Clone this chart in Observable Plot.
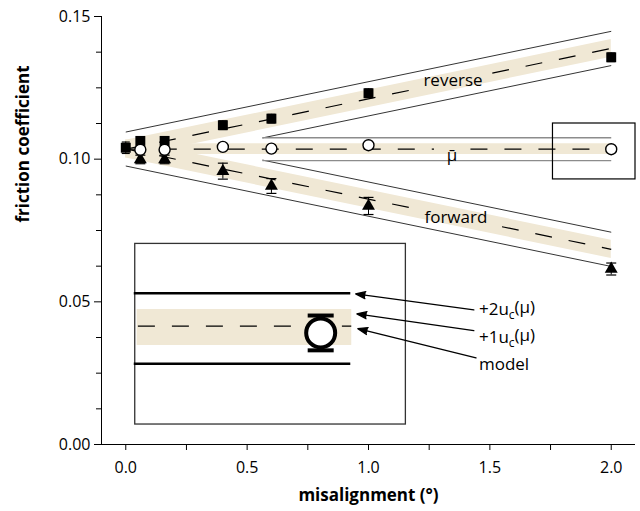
<!DOCTYPE html>
<html><head><meta charset="utf-8">
<script src="https://cdn.jsdelivr.net/npm/d3@7"></script>
<script src="https://cdn.jsdelivr.net/npm/@observablehq/plot@0.6"></script>
<style>
body{margin:0;background:#fff;}
#chart svg{font-family:"Open Sans",sans-serif;}
</style></head><body><div id="chart"></div>
<script>
// ---- axes ----
const xMajor = [0, 0.5, 1, 1.5, 2];
const xMinor = [0.25, 0.75, 1.25, 1.75];
const yMajor = [0, 0.05, 0.10, 0.15];
const yMinor = [0.0125, 0.025, 0.0375, 0.0625, 0.075, 0.0875, 0.1125, 0.125, 0.1375];

// ---- measured friction coefficients ----
const reverseX = [0, 0.06, 0.16, 0.4, 0.6, 1.0, 2.0];
const reverseMu = [0.1040, 0.1064, 0.1064, 0.1119, 0.1142, 0.1231, 0.1357];
const reverseErr = [0.0020, 0.0015, 0.0015, 0.0015, 0.0015, 0.0015, 0.0015];
const meanX = [0.06, 0.16, 0.4, 0.6, 1.0, 2.0];
const meanMu = [0.1033, 0.1033, 0.1043, 0.1037, 0.1049, 0.1035];
const meanErr = [0.0012, 0.0012, 0.0012, 0.0012, 0.0012, 0.0012];
const forwardX = [0.06, 0.16, 0.4, 0.6, 1.0, 2.0];
const forwardMu = [0.0999, 0.0999, 0.0958, 0.0906, 0.0836, 0.0615];
const forwardErr = [0.0015, 0.0015, 0.0028, 0.0026, 0.0030, 0.0021];

// ---- model lines (end points) and uncertainties ----
const modelX = [0, 2];
const reverseModel = [0.1035, 0.1388];
const meanModel = [0.1035, 0.1035];
const forwardModel = [0.1036, 0.0684];
const reverseU = 0.0031, meanU = 0.0019, forwardU = 0.0032;      // 1 u_c
const reverse2U = 0.0060, mean2U = 0.0040, forward2U = 0.0060;   // 2 u_c
const innerStart = 0.563;
const reverseGap = [1.19, 1.51], meanGap = [1.27, 1.42], forwardGap = [1.19, 1.55];

// ---- curve labels ----
const curveLabels = ["reverse", "μ\u0304", "forward"];
const curveLabelX = [1.348, 1.344, 1.36];
const curveLabelY = [0.1276, 0.1012, 0.0796];

// ---- magnified inset (schematic) ----
const zoomBoxX = [1.760, 2.100], zoomBoxY = [0.0929, 0.1125];
const insetBoxX = [0.039, 1.154], insetBoxY = [0.0070, 0.0703];
const insetLineX = [0.035, 0.927];
const insetLineY = [0.0530, 0.0283];
const insetBandX = [0.047, 0.931], insetBandY = [0.0347, 0.0473];
const insetModelX = [0.052, 0.931], insetModelY = 0.0415;
const insetPointX = 0.803, insetPointY = 0.0391, insetPointErr = 0.0061;
const arrowTailX = [1.434, 1.434, 1.443];
const arrowTailY = [0.0472, 0.0399, 0.0304];
const arrowTipX = [0.947, 0.952, 0.956];
const arrowTipY = [0.0528, 0.0458, 0.0406];
const insetLabels = ["+2u_c(μ)", "+1u_c(μ)", "model"];
const insetLabelX = 1.455;
const insetLabelY = [0.0473, 0.0375, 0.0280];

const tan = "#f0e8d5";

// ---- build tables ----
const models = [
  {name: "reverse", y: reverseModel, u: reverseU, u2: reverse2U, gap: reverseGap},
  {name: "mean", y: meanModel, u: meanU, u2: mean2U, gap: meanGap},
  {name: "forward", y: forwardModel, u: forwardU, u2: forward2U, gap: forwardGap}
];
const at = (m, x) => m.y[0] + (m.y[1] - m.y[0]) * (x - modelX[0]) / (modelX[1] - modelX[0]);
const bandRows = models.flatMap(m => modelX.map((x, i) => ({name: m.name, x, lo: m.y[i] - m.u, hi: m.y[i] + m.u})));
const dashRows = models.flatMap(m => [
  {x1: modelX[0], y1: at(m, modelX[0]), x2: m.gap[0], y2: at(m, m.gap[0])},
  {x1: m.gap[1], y1: at(m, m.gap[1]), x2: modelX[1], y2: at(m, modelX[1])}
]);
const [R, M, F] = models;
const outerRows = [
  {x1: modelX[0], y1: at(R, modelX[0]) + R.u2, x2: modelX[1], y2: at(R, modelX[1]) + R.u2},
  {x1: modelX[0], y1: at(F, modelX[0]) - F.u2, x2: modelX[1], y2: at(F, modelX[1]) - F.u2},
  {x1: innerStart, y1: at(R, innerStart) - R.u2, x2: modelX[1], y2: at(R, modelX[1]) - R.u2},
  {x1: innerStart, y1: at(F, innerStart) + F.u2, x2: modelX[1], y2: at(F, modelX[1]) + F.u2}
];
const meanLineRows = [1, -1].map(s => ({x1: innerStart, y1: at(M, innerStart) + s * M.u2, x2: modelX[1], y2: at(M, modelX[1]) + s * M.u2}));

const pts = (xs, ys, es) => xs.map((x, i) => ({x, y: ys[i], lo: ys[i] - es[i], hi: ys[i] + es[i]}));
const revRows = pts(reverseX, reverseMu, reverseErr);
const meanRows = pts(meanX, meanMu, meanErr);
const fwdRows = pts(forwardX, forwardMu, forwardErr);
const capsOf = rows => rows.flatMap(d => [{x: d.x, y: d.lo}, {x: d.x, y: d.hi}]);

const capSymbol = {draw(ctx, size) { const w = Math.sqrt(size / Math.PI); ctx.moveTo(-w, 0); ctx.lineTo(w, 0); }};

const curveLabelRows = curveLabels.map((t, i) => ({t, x: curveLabelX[i], y: curveLabelY[i]}));
const arrowRows = arrowTailX.map((x, i) => ({x1: x, y1: arrowTailY[i], x2: arrowTipX[i], y2: arrowTipY[i]}));
const insetLabelRows = insetLabels.map((t, i) => ({t, x: insetLabelX, y: insetLabelY[i]}));
const insetPoint = [{x: insetPointX, y: insetPointY, lo: insetPointY - insetPointErr, hi: insetPointY + insetPointErr}];

const plot = Plot.plot({
  width: 640, height: 511,
  marginLeft: 101, marginRight: 5, marginTop: 16, marginBottom: 67,
  x: {domain: [-0.1, 2.1], label: null},
  y: {domain: [0, 0.15], label: null},
  style: {fontFamily: "'Open Sans', sans-serif", fontSize: "16px", color: "black", background: "white"},
  marks: [
    Plot.areaY(bandRows, {x: "x", y1: "lo", y2: "hi", z: "name", fill: tan}),
    Plot.link(outerRows, {x1: "x1", y1: "y1", x2: "x2", y2: "y2", stroke: "black", strokeWidth: 0.8}),
    Plot.link(meanLineRows, {x1: "x1", y1: "y1", x2: "x2", y2: "y2", stroke: "#8c8c8c", strokeWidth: 1.3}),
    Plot.link(dashRows, {x1: "x1", y1: "y1", x2: "x2", y2: "y2", stroke: "black", strokeWidth: 1.2, strokeDasharray: "17,17"}),
    Plot.text(curveLabelRows, {x: "x", y: "y", text: "t", fontSize: 17, fill: "black"}),
    Plot.ruleX(fwdRows, {x: "x", y1: "lo", y2: "hi", stroke: "black", strokeWidth: 1}),
    Plot.dot(capsOf(fwdRows), {x: "x", y: "y", symbol: capSymbol, r: 5, stroke: "black", fill: "none", strokeWidth: 1.2}),
    Plot.dot(fwdRows, {x: "x", y: "y", symbol: "triangle", r: 4.8, fill: "black", stroke: "none"}),
    Plot.ruleX(revRows, {x: "x", y1: "lo", y2: "hi", stroke: "black", strokeWidth: 1}),
    Plot.dot(capsOf(revRows), {x: "x", y: "y", symbol: capSymbol, r: 4, stroke: "black", fill: "none", strokeWidth: 1.2}),
    Plot.dot(revRows, {x: "x", y: "y", symbol: "square", r: 5.6, fill: "black", stroke: "none"}),
    Plot.ruleX(meanRows, {x: "x", y1: "lo", y2: "hi", stroke: "black", strokeWidth: 1}),
    Plot.dot(capsOf(meanRows), {x: "x", y: "y", symbol: capSymbol, r: 4, stroke: "black", fill: "none", strokeWidth: 1.2}),
    Plot.dot(meanRows, {x: "x", y: "y", r: 5.5, fill: "white", stroke: "black", strokeWidth: 1.4}),
    Plot.rect([0], {x1: zoomBoxX[0], x2: zoomBoxX[1], y1: zoomBoxY[0], y2: zoomBoxY[1], fill: "none", stroke: "black", strokeWidth: 1.2}),
    Plot.rect([0], {x1: insetBoxX[0], x2: insetBoxX[1], y1: insetBoxY[0], y2: insetBoxY[1], fill: "white", stroke: "#333", strokeWidth: 1.3}),
    Plot.rect([0], {x1: insetBandX[0], x2: insetBandX[1], y1: insetBandY[0], y2: insetBandY[1], fill: tan}),
    Plot.ruleY(insetLineY, {x1: insetLineX[0], x2: insetLineX[1], stroke: "black", strokeWidth: 2.5}),
    Plot.ruleY([insetModelY], {x1: insetModelX[0], x2: insetModelX[1], stroke: "black", strokeWidth: 1.2, strokeDasharray: "17,17"}),
    Plot.ruleX(insetPoint, {x: "x", y1: "lo", y2: "hi", stroke: "black", strokeWidth: 3}),
    Plot.dot(capsOf(insetPoint), {x: "x", y: "y", symbol: capSymbol, r: 13, stroke: "black", fill: "none", strokeWidth: 4}),
    Plot.dot(insetPoint, {x: "x", y: "y", r: 14.5, fill: "white", stroke: "black", strokeWidth: 4}),
    Plot.arrow(arrowRows, {x1: "x1", y1: "y1", x2: "x2", y2: "y2", stroke: "black", strokeWidth: 1.3, headLength: 12, headAngle: 40}),
    Plot.text(insetLabelRows, {x: "x", y: "y", text: "t", textAnchor: "start", fontSize: 17, fill: "black"}),
    Plot.ruleY([0], {stroke: "black", strokeWidth: 1}),
    Plot.ruleX([-0.1], {stroke: "black", strokeWidth: 1}),
    Plot.axisX({ticks: xMajor, tickFormat: d3.format(".1f"), tickSize: 6, tickPadding: 11, fontSize: 16, label: null}),
    Plot.axisX({ticks: xMinor, tickFormat: () => "", tickSize: 6, label: null}),
    Plot.axisY({ticks: yMajor, tickFormat: d3.format(".2f"), tickSize: 7, tickPadding: 4, fontSize: 16, label: null}),
    Plot.axisY({ticks: yMinor, tickFormat: () => "", tickSize: 5, label: null}),
    Plot.text(["misalignment (°)"], {frameAnchor: "bottom", dy: 56, fontWeight: "bold", fontSize: 17, fill: "black"}),
    Plot.text(["friction coefficient"], {frameAnchor: "left", rotate: -90, dx: -78, dy: -8, fontWeight: "bold", fontSize: 17, fill: "black"})
  ]
});

// subscript c in u_c
plot.querySelectorAll("text").forEach(t => {
  const m = t.textContent.match(/^(.*)_c(.*)$/);
  if (!m || t.children.length) return;
  t.textContent = "";
  const ns = "http://www.w3.org/2000/svg";
  const a = document.createElementNS(ns, "tspan"); a.textContent = m[1];
  const b = document.createElementNS(ns, "tspan"); b.textContent = "c"; b.setAttribute("dy", "0.3em"); b.setAttribute("font-size", "12");
  const c = document.createElementNS(ns, "tspan"); c.textContent = m[2]; c.setAttribute("dy", "-0.3em");
  t.append(a, b, c);
});
// fill arrow heads
plot.querySelectorAll('g[aria-label="arrow"] path').forEach(p => {
  p.setAttribute("fill", "black"); p.setAttribute("stroke-linejoin", "miter");
});
document.getElementById("chart").append(plot);
</script></body></html>
